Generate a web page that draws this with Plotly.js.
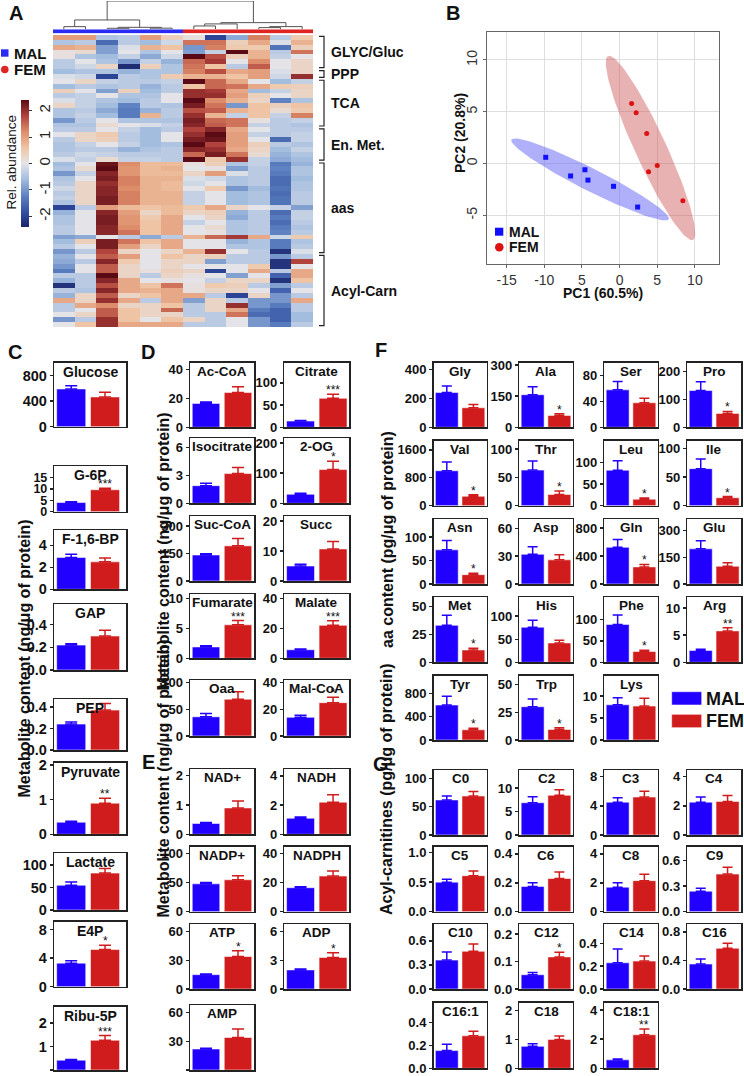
<!DOCTYPE html>
<html><head><meta charset="utf-8">
<script src="https://cdn.plot.ly/plotly-3.0.1.min.js"></script>
<style>html,body{margin:0;padding:0;background:#fff}#chart{width:744px;height:1076px}</style>
</head><body><div id="chart"></div>
<script>
// ---------------- DATA ----------------
// Panel A heatmap
const heatGroups = ["MAL","MAL","MAL","MAL","MAL","MAL","FEM","FEM","FEM","FEM","FEM","FEM"];
const heatRowGroups = ["GLYC/Gluc","PPP","TCA","En. Met.","aas","Acyl-Carn"];
const heatRowGroupSizes = [7,2,10,7,19,15];
const heatZ = [
[1.0,1.0,-0.5,-0.4,1.0,0.4,0.1,-2.0,-0.8,1.3,-0.4,0.5],
[-0.5,-0.4,-1.5,-0.4,-0.6,-0.2,1.4,1.4,0.4,0.9,-0.1,0.8],
[0.9,0.8,-0.9,-0.1,0.8,0.6,-1.0,1.3,0.5,0.5,-1.4,0.4],
[0.1,0.2,-0.9,0.0,-0.5,0.0,-0.9,-0.3,2.4,0.8,-0.4,1.4],
[0.1,-0.5,-0.6,-0.3,-0.8,-0.2,2.4,1.7,0.4,0.8,-0.3,0.0],
[-0.4,0.0,-0.5,-1.0,-0.3,-0.7,1.5,1.9,0.0,1.2,0.0,0.3],
[-0.4,-0.2,0.3,-2.3,0.4,-0.5,1.4,0.6,-0.4,1.6,0.0,0.3],
[-0.6,-0.5,-0.5,-0.7,-0.5,-0.5,1.3,1.7,0.9,1.0,-0.1,0.3],
[-0.1,-0.2,-2.0,-0.4,-0.5,0.5,0.8,0.8,0.6,1.0,-0.2,2.0],
[0.0,0.3,-0.3,-0.4,-0.4,-0.3,2.6,1.5,0.9,0.0,-0.6,-0.3],
[-0.6,-0.4,-0.5,-0.4,-0.7,-0.4,0.6,1.5,1.4,0.9,0.5,0.4],
[0.4,0.0,-0.9,0.4,-0.6,-0.4,2.0,1.9,0.9,-0.6,-0.3,0.3],
[-0.4,-0.3,0.0,-0.5,-0.5,0.0,2.0,2.0,1.0,0.4,0.0,0.3],
[-0.1,-0.3,-0.5,-0.6,-0.4,0.0,2.6,1.2,0.8,0.3,-1.2,-0.5],
[0.3,-0.3,-0.6,-1.2,-0.4,-0.5,2.2,1.4,-1.0,0.6,0.4,0.6],
[-0.5,-0.4,-0.8,-1.3,-0.7,-0.4,1.7,1.6,0.8,0.6,0.2,0.5],
[-0.5,-0.3,-0.6,-1.3,0.8,-0.4,2.0,0.8,-0.3,0.6,-0.3,1.3],
[-1.0,-0.4,0.0,-0.5,-0.5,-0.5,2.2,1.5,1.4,0.1,-0.4,-0.3],
[-0.5,-0.5,0.2,0.0,-0.1,-0.3,2.1,1.6,1.4,-0.3,-0.4,-0.5],
[-0.4,-0.4,0.0,-0.3,-0.6,-0.4,1.8,2.1,0.9,0.0,-0.4,-0.4],
[0.0,0.3,0.5,-0.4,-0.6,0.0,2.0,2.4,1.0,-0.3,-0.4,-0.3],
[-0.4,0.3,0.4,-0.4,-0.6,0.0,2.2,2.3,1.0,0.0,-1.5,-0.3],
[-0.5,-0.3,0.0,-0.3,-0.6,-0.5,2.4,1.8,1.0,0.4,-0.4,-0.5],
[-0.5,-0.4,-0.4,-0.7,-0.5,-0.4,2.1,2.0,0.9,0.3,-0.6,-0.3],
[-0.4,-0.2,-0.3,-0.4,-0.4,-0.4,1.5,2.2,1.4,0.2,-0.7,-0.5],
[-0.1,-0.3,0.2,-0.3,-0.3,-0.4,2.4,0.5,2.0,-0.3,-0.8,-0.6],
[-0.6,0.0,2.3,1.2,0.7,0.7,0.1,0.4,-0.5,-0.3,-1.3,-0.7],
[-0.5,0.2,2.4,1.1,0.7,0.8,0.0,0.1,-0.9,-0.4,-1.2,-0.5],
[-1.0,-0.3,2.1,1.1,0.7,0.7,0.3,1.0,-0.1,-0.4,-1.3,-0.5],
[-0.5,0.0,2.2,1.3,0.8,0.8,-0.1,-0.2,-0.5,-0.4,-1.5,-0.6],
[-0.4,0.3,2.0,1.3,0.8,0.7,-0.2,0.0,-0.5,-0.4,-1.5,-0.5],
[-0.2,0.3,2.1,1.2,0.8,0.7,0.0,0.5,-1.0,-0.6,-1.4,-0.5],
[-0.4,0.3,2.1,1.3,0.8,0.8,-0.3,0.0,-0.6,-0.5,-1.5,-0.4],
[-0.3,0.3,2.2,1.3,0.8,0.8,-0.3,0.0,-0.6,-0.5,-1.4,-0.4],
[-0.5,0.3,2.2,1.3,0.8,0.8,-0.3,0.0,-0.6,-0.5,-1.4,-0.4],
[-2.0,-0.4,1.0,0.7,0.6,0.7,0.5,0.9,0.3,0.0,-0.3,-0.9],
[-0.7,0.0,2.1,1.0,0.3,0.7,0.3,0.4,-0.7,-0.4,-1.5,-0.3],
[-0.5,0.0,2.2,1.1,0.5,0.9,0.0,0.3,-0.8,-0.4,-1.3,-0.3],
[-0.5,0.0,2.2,1.1,0.6,0.9,-0.3,0.0,-0.5,-0.4,-1.5,-0.4],
[-0.4,0.0,2.1,1.2,0.6,0.9,0.0,0.2,-0.5,-0.4,-1.3,-0.5],
[-0.4,0.0,2.1,1.4,0.6,0.9,0.0,0.1,-0.5,-0.4,-1.2,-0.4],
[-0.9,-0.8,0.0,-0.4,-0.8,-0.4,0.8,1.5,1.9,0.9,-0.2,0.5],
[-0.6,0.4,2.2,1.4,0.6,0.9,0.0,0.0,-0.7,-0.5,-1.3,-0.5],
[-0.4,0.0,2.2,1.0,0.3,0.9,0.0,0.0,-0.5,-0.5,-1.3,-0.4],
[-1.0,-0.4,1.8,0.3,0.0,0.3,0.8,2.0,0.0,-0.4,-2.2,-0.1],
[-0.7,0.0,1.6,1.0,0.0,0.6,0.3,0.4,-0.4,-0.4,-1.0,-0.4],
[-0.8,-0.4,2.1,0.5,0.0,0.3,0.3,-0.9,-0.4,-0.4,-2.2,1.8],
[-1.0,0.0,1.6,0.3,0.0,0.3,0.0,0.0,0.0,0.5,-2.2,0.0],
[-1.3,0.0,1.6,0.3,0.1,0.4,0.3,-2.0,0.0,0.9,-0.4,0.9],
[-0.4,-0.4,2.6,0.3,-0.4,0.3,0.1,0.0,-0.9,0.0,-1.6,0.9],
[-0.7,-0.4,2.1,0.9,0.0,0.1,0.0,-0.3,0.3,0.3,-2.2,0.6],
[-2.2,-0.4,1.7,0.9,0.6,1.4,0.1,0.5,0.4,-0.4,-0.9,-0.4],
[-0.4,-0.5,2.1,0.9,0.8,0.9,0.1,0.3,0.3,0.0,-1.6,0.0],
[-0.7,0.3,1.6,0.3,0.6,0.9,0.9,-0.4,-2.0,0.3,-1.0,-0.4],
[0.9,0.3,2.0,0.9,-0.4,0.9,-0.9,0.3,-0.4,-1.0,-1.0,0.9],
[-0.4,0.9,1.2,0.3,0.3,0.6,-0.4,0.3,2.0,-1.0,-1.3,-0.4],
[-0.4,0.0,1.6,0.6,0.3,1.5,-0.4,0.3,0.9,-1.3,-1.6,-0.4],
[0.0,0.3,1.6,0.6,0.3,0.3,-0.4,-0.4,1.4,-1.5,-1.6,-0.6],
[-1.0,-0.4,2.0,0.6,0.0,0.6,0.3,-0.4,0.0,-1.0,-1.6,-0.6],
[0.0,0.6,2.0,0.9,0.9,0.9,-0.4,-0.4,0.0,-1.0,-1.3,-0.4]
];
// column dendrogram linkage: [childA, childB, height] (leaves 0-11, new nodes from 12)
const dendroMerges = [[0,1,0.95],[2,3,0.35],[4,5,0.4],[13,14,0.7],[12,15,3.3],
                      [6,7,1.18],[9,10,0.6],[17,8,1.9],[18,11,0.95],[19,20,2.35],[16,21,10]];
const colorbarTicks = ["-2","-1","0","1","2"];

// Panel B PCA
const pcaMALx = [-9.8,-6.5,-4.6,-4.2,-0.8,2.4];
const pcaMALy = [0.6,-1.2,-0.6,-1.6,-2.2,-4.2];
const pcaFEMx = [1.6,2.2,3.6,5.0,3.85,8.4];
const pcaFEMy = [5.8,4.9,2.9,-0.2,-0.8,-3.6];
const pcaXTickVals = [-15,-10,-5,0,5,10];
const pcaXTickText = ["-15","-10","5","0","5","10"];
const pcaYTickVals = [-5,0,5,10];
const pcaYTickText = ["-5","0","5","10"];

// Panel C glycolysis / PPP
const glyNames = ["Glucose","G-6P","F-1,6-BP","GAP","PEP","Pyruvate","Lactate","E4P","Ribu-5P"];
const glyMAL = [590,4.0,2.9,0.22,0.24,0.35,55,3.3,0.42];
const glyMALsem = [50,0.4,0.3,0.012,0.02,0.03,7,0.35,0.03];
const glyFEM = [465,9.6,2.5,0.30,0.37,0.9,82,5.2,1.27];
const glyFEMsem = [72,0.7,0.35,0.05,0.06,0.14,10,0.6,0.2];
const glySig = ["","***","","","","**","","*","***"];
const glyTicks = [["0","400","800"],["0","5","10","15"],["0","2","4"],["0.0","0.2","0.4"],["0.0","0.2","0.4"],["0","1","2"],["0","50","100"],["0","4","8"],["0","1","2"]];

// Panel D TCA
const tcaNames = ["Ac-CoA","Citrate","Isocitrate","2-OG","Suc-CoA","Succ","Fumarate","Malate","Oaa","Mal-CoA"];
const tcaMAL = [16.5,14,1.9,30,142,5.0,1.9,5.7,36,14];
const tcaMALsem = [1,1.5,0.25,3,7,0.6,0.2,0.5,6,1.5];
const tcaFEM = [24,65,3.2,112,192,10.7,5.6,22,69,25];
const tcaFEMsem = [4,9,0.65,28,40,2.5,0.7,3,14,4];
const tcaSig = ["","***","","*","","","***","***","","*"];
const tcaTicks = [["0","20","40"],["0","50","100"],["0","3","6"],["0","100","200"],["0","150","300"],["0","10","20"],["0","5","10"],["0","20","40"],["0","50","100"],["0","20","40"]];

// Panel E energy metabolism
const enNames = ["NAD+","NADH","NADP+","NADPH","ATP","ADP","AMP"];
const enMAL = [0.37,1.1,48,16.5,15,2.0,22];
const enMALsem = [0.03,0.08,2.5,0.7,0.6,0.08,0.8];
const enFEM = [0.9,2.2,55,24.5,34,3.3,34];
const enFEMsem = [0.24,0.5,7,3.5,6,0.5,9];
const enSig = ["","","","","*","*",""];
const enTicks = [["0","1","2"],["0","2","4"],["0","50","100"],["0","20","40"],["0","30","60"],["0","3","6"],["0","30","60"]];

// Panel F amino acids
const aaNames = ["Gly","Ala","Ser","Pro","Val","Thr","Leu","Ile","Asn","Asp","Gln","Glu","Met","His","Phe","Arg","Tyr","Trp","Lys"];
const aaMAL = [240,157,58,132,1000,63,82,65,73,32,525,198,33,76,88,2.2,600,30,8.0];
const aaMALsem = [45,38,13,32,250,16,22,17,20,8,110,45,9,15,22,0.2,150,7,1.6];
const aaFEM = [135,57,38,50,270,20,15,14,20,26,245,100,11,42,25,5.8,175,9.5,7.7];
const aaFEMsem = [22,8,7,7,40,6,2.5,2,3,5.5,35,20,1.5,6,3,0.6,25,1.5,1.8];
const aaSig = ["","*","","*","*","*","*","*","*","","*","","*","","*","**","*","*",""];
const aaTicks = [["0","200","400"],["0","150","300"],["0","40","80"],["0","100","200"],["0","800","1600"],["0","50","100"],["0","50","100"],["0","50","100"],["0","50","100"],["0","30","60"],["0","400","800"],["0","150","300"],["0","25","50"],["0","50","100"],["0","50","100"],["0","5","10"],["0","400","800"],["0","25","50"],["0","5","10"]];

// Panel G acyl-carnitines
const acNames = ["C0","C2","C3","C4","C5","C6","C8","C9","C10","C12","C14","C16","C16:1","C18","C18:1"];
const acMAL = [62,6.9,4.5,2.25,0.50,0.175,1.7,0.24,0.36,0.052,0.23,0.35,0.155,0.76,0.58];
const acMALsem = [7,1.3,0.6,0.35,0.05,0.025,0.3,0.035,0.1,0.008,0.12,0.07,0.055,0.09,0.05];
const acFEM = [69,8.5,5.2,2.3,0.61,0.23,2.15,0.44,0.47,0.117,0.245,0.57,0.285,1.0,2.3];
const acFEMsem = [8,1.2,0.8,0.4,0.08,0.045,0.45,0.08,0.09,0.017,0.045,0.07,0.04,0.12,0.4];
const acSig = ["","","","","","","","","","*","","","","","**"];
const acTicks = [["0","50","100"],["0","5","10"],["0","4","8"],["0","2","4"],["0.0","0.5","1.0"],["0.0","0.2","0.4"],["0","2","4"],["0.0","0.3","0.6"],["0.0","0.3","0.6"],["0.0","0.1","0.2"],["0.0","0.2","0.4"],["0.0","0.4","0.8"],["0.0","0.2","0.4"],["0","1","2"],["0","2","4"]];

// ---------------- LAYOUT / STYLE ----------------
const W = 744, H = 1076;
const FONT = "Liberation Sans, Arial, Helvetica, sans-serif";
const BLUE = "#2200ff", RED = "#d01c1c";
const FRAME = "#222";

// axis upper limits for each small panel
const glyTop = [1000,20,5.4,0.58,0.47,2.07,126,9.1,2.7];
const tcaTop = [44.6,145,7.0,216,355,21.7,10.7,42.7,105,42];
const enTop = [2.22,4.45,112,44.7,68,6.8,68];
const aaTop = [446,311,100,232,1860,115,150,114,139,70,930,366,58,141,151,12,1103,58,14.6];
const acTop = [115,13.9,8.9,4.45,1.1,0.45,4.5,0.76,0.81,0.237,0.57,0.91,0.575,2.27,4.5];

// pixel boxes
const glyRows = [[362.7,426.7],[466,511.7],[530,589.3],[604.3,670],[699.3,750],[762.7,834.3],[853.3,910],[921.7,986.7],[1006.7,1070]];
const glyCol = [54.3,126];
const dCols = [[190,254],[284.3,349.3]];
const tcaRows = [[362.7,427.3],[438.3,503.3],[516,581],[594.3,658.3],[680,736]];
const enRows = [[769.3,834.3],[846.7,911.7],[924,989],[1005,1070]];
const fCols = [[433.5,486.7],[519.3,572.7],[604.3,657.7],[687.3,741]];
const aaRows = [[362.7,427.3],[440.7,505.7],[519,584],[597.3,662.3],[675.7,740]];
const acRows = [[770,835],[846.7,911.7],[924,989],[1002.7,1068.3]];

const data = [];
const layout = {
  width: W, height: H, margin: {l:0,r:0,t:0,b:0},
  paper_bgcolor: "#fff", plot_bgcolor: "rgba(0,0,0,0)",
  showlegend: false, barmode: "overlay",
  font: {family: FONT, color: "#111"},
  annotations: [], shapes: []
};
let axCount = 0;
function addAxes(box, xopt, yopt) {
  axCount++;
  const s = axCount === 1 ? "" : String(axCount);
  layout["xaxis"+s] = Object.assign({domain:[box[0]/W, box[1]/W], anchor:"y"+s, fixedrange:true}, xopt);
  layout["yaxis"+s] = Object.assign({domain:[1-box[3]/H, 1-box[2]/H], anchor:"x"+s, fixedrange:true}, yopt);
  return {x:"x"+s, y:"y"+s};
}
function ann(o) { layout.annotations.push(Object.assign({showarrow:false}, o)); }
function txt(x, y, text, size, opts) {
  ann(Object.assign({xref:"paper", yref:"paper", x:x/W, y:1-y/H, text:text,
    font:{family:FONT, size:size, color:"#111"}}, opts||{}));
}

// ---------------- Panel A: heatmap ----------------
const colIdx = heatGroups.map((g,i)=>i);
const rowIdx = heatZ.map((r,i)=>i);
const hm = addAxes([53,313,35,327], {range:[-0.5,11.5], visible:false}, {range:[heatZ.length-0.5,-0.5], visible:false});
data.push({
  type:"heatmap", z:heatZ, x:colIdx, y:rowIdx, xaxis:hm.x, yaxis:hm.y,
  zmin:-2.4, zmax:2.4, hoverinfo:"skip",
  colorscale:[[0,"#1b2466"],[0.1,"#2e4a9e"],[0.25,"#5f83c2"],[0.38,"#a6bfe0"],[0.5,"#e4e4e8"],
              [0.62,"#f0c6a6"],[0.75,"#dd8d69"],[0.88,"#b0403a"],[1,"#5a0a14"]],
  colorbar:{x:21/W, xanchor:"left", xpad:0, y:1-227/H, yanchor:"bottom", ypad:0,
    len:127, lenmode:"pixels", thickness:8, thicknessmode:"pixels", outlinewidth:0,
    tickvals:colorbarTicks.map(Number), ticktext:colorbarTicks, ticks:"outside", ticklen:3,
    tickcolor:"#333", tickangle:-90, tickfont:{family:FONT, size:15, color:"#222"}}
});
// group strip
const st = addAxes([53,313,29.3,33.5], {range:[-0.5,11.5], visible:false}, {range:[-0.5,0.5], visible:false});
data.push({type:"heatmap", z:[heatGroups.map(g=>g==="MAL"?0:1)], x:colIdx, y:[0],
  xaxis:st.x, yaxis:st.y, zmin:0, zmax:1, showscale:false, hoverinfo:"skip",
  colorscale:[[0,"#2a2af5"],[0.5,"#2a2af5"],[0.5,"#e02424"],[1,"#e02424"]]});
// dendrogram
const dd = addAxes([53,313,1,29.3], {range:[-0.5,11.5], visible:false}, {range:[0,10], visible:false});
const nX = colIdx.slice(), nH = colIdx.map(()=>0), ddx = [], ddy = [];
dendroMerges.forEach(([a,b,h])=>{
  ddx.push(nX[a],nX[a],nX[b],nX[b],null); ddy.push(nH[a],h,h,nH[b],null);
  nX.push((nX[a]+nX[b])/2); nH.push(h);
});
data.push({type:"scatter", mode:"lines", x:ddx, y:ddy, xaxis:dd.x, yaxis:dd.y,
  line:{color:"#555", width:1}, hoverinfo:"skip", connectgaps:false});
// row group brackets + labels
let r0 = 0;
heatRowGroups.forEach((g,i)=>{
  const a = r0 - 0.5 + 0.3, b = r0 + heatRowGroupSizes[i] - 0.5 - 0.3;
  layout.shapes.push({type:"path", xref:"paper", yref:hm.y,
    path:`M ${319/W},${a} H ${324/W} V ${b} H ${319/W}`, line:{color:"#222", width:1.2}});
  ann({xref:"paper", yref:hm.y, x:329/W, y:(a+b)/2, xanchor:"left", yanchor:"middle",
    text:"<b>"+g+"</b>", font:{family:FONT, size:14, color:"#111"}});
  r0 += heatRowGroupSizes[i];
});
// legend A
layout.shapes.push({type:"rect", xref:"paper", yref:"paper", x0:1/W, x1:8.5/W, y0:1-56.7/H, y1:1-49.3/H, fillcolor:"#2a2af5", line:{width:0}});
layout.shapes.push({type:"circle", xref:"paper", yref:"paper", x0:1/W, x1:8.6/W, y0:1-73.3/H, y1:1-65.7/H, fillcolor:"#e02424", line:{width:0}});
txt(11.5, 53, "<b>MAL</b>", 15, {xanchor:"left", yanchor:"middle"});
txt(11.5, 69.5, "<b>FEM</b>", 15, {xanchor:"left", yanchor:"middle"});
txt(11.5, 162, "Rel. abundance", 13.5, {textangle:-90, xanchor:"center", yanchor:"middle"});

// ---------------- Panel B: PCA ----------------
const pc = addAxes([487,719,32,264],
  {range:[-17.6,13.2], tickvals:pcaXTickVals, ticktext:pcaXTickText, ticks:"outside", ticklen:3, tickcolor:"#666",
   showgrid:true, gridcolor:"#dedede", zeroline:false, showline:true, mirror:true, linecolor:"#666", linewidth:1.2,
   tickfont:{family:FONT, size:14, color:"#333"}},
  {range:[-9.7,12.7], tickvals:pcaYTickVals, ticktext:pcaYTickText, ticks:"outside", ticklen:3, tickcolor:"#666",
   showgrid:true, gridcolor:"#dedede", zeroline:false, showline:true, mirror:true, linecolor:"#666", linewidth:1.2,
   tickangle:-90, tickfont:{family:FONT, size:14, color:"#333"}});
function ellipse(xs, ys, k) {
  const n = xs.length, mx = xs.reduce((a,b)=>a+b)/n, my = ys.reduce((a,b)=>a+b)/n;
  let sxx=0, syy=0, sxy=0;
  for (let i=0;i<n;i++){const dx=xs[i]-mx, dy=ys[i]-my; sxx+=dx*dx; syy+=dy*dy; sxy+=dx*dy;}
  sxx/=(n-1); syy/=(n-1); sxy/=(n-1);
  const tr=sxx+syy, det=sxx*syy-sxy*sxy, disc=Math.sqrt(tr*tr/4-det);
  const l1=tr/2+disc, l2=tr/2-disc, ang=Math.atan2(l1-sxx, sxy);
  const c=Math.cos(ang), s=Math.sin(ang), ex=[], ey=[];
  for (let i=0;i<=120;i++){ const t=2*Math.PI*i/120;
    const u=k*Math.sqrt(l1)*Math.cos(t), v=k*Math.sqrt(l2)*Math.sin(t);
    ex.push(mx+u*c-v*s); ey.push(my+u*s+v*c); }
  return {x:ex, y:ey};
}
const kEll = Math.sqrt(-2*Math.log(0.05));
const eM = ellipse(pcaMALx, pcaMALy, kEll), eF = ellipse(pcaFEMx, pcaFEMy, kEll);
data.push({type:"scatter", mode:"lines", x:eM.x, y:eM.y, fill:"toself", fillcolor:"rgba(95,95,245,0.5)",
  line:{width:0}, xaxis:pc.x, yaxis:pc.y, hoverinfo:"skip"});
data.push({type:"scatter", mode:"lines", x:eF.x, y:eF.y, fill:"toself", fillcolor:"rgba(205,85,85,0.45)",
  line:{width:0}, xaxis:pc.x, yaxis:pc.y, hoverinfo:"skip"});
data.push({type:"scatter", mode:"markers", x:pcaMALx, y:pcaMALy, marker:{symbol:"square", size:5, color:"#1010ff"},
  xaxis:pc.x, yaxis:pc.y});
data.push({type:"scatter", mode:"markers", x:pcaFEMx, y:pcaFEMy, marker:{symbol:"circle", size:5, color:"#dd1111"},
  xaxis:pc.x, yaxis:pc.y});
layout.shapes.push({type:"rect", xref:"paper", yref:"paper", x0:495/W, x1:503.3/W, y0:1-235.7/H, y1:1-227.7/H, fillcolor:"#1010ff", line:{width:0}});
layout.shapes.push({type:"circle", xref:"paper", yref:"paper", x0:495/W, x1:503.6/W, y0:1-251.6/H, y1:1-243/H, fillcolor:"#dd1111", line:{width:0}});
txt(507, 231.7, "<b>MAL</b>", 14, {xanchor:"left", yanchor:"middle"});
txt(507, 247.3, "<b>FEM</b>", 14, {xanchor:"left", yanchor:"middle"});
txt(603, 293, "<b>PC1 (60.5%)</b>", 14, {xanchor:"center", yanchor:"middle"});
txt(460, 133, "<b>PC2 (20.8%)</b>", 14, {textangle:-90, xanchor:"center", yanchor:"middle"});

// ---------------- bar panels ----------------
function barPanel(name, mal, malE, fem, femE, sig, ticks, top, box, xr, tickSize, titleSize, capW) {
  const tsz = ticks.length > 3 ? tickSize - 2 : tickSize;
  const a = addAxes(box,
    {range:xr, showticklabels:false, ticks:"", showgrid:false, zeroline:false,
     showline:true, mirror:true, linecolor:FRAME, linewidth:1.5},
    {range:[0,top], tickvals:ticks.map(Number), ticktext:ticks, ticks:"outside", ticklen:3, tickwidth:1.5,
     tickcolor:FRAME, showgrid:false, zeroline:false, showline:true, mirror:true, linecolor:FRAME, linewidth:1.5,
     tickfont:{family:FONT, size:tsz, color:"#111", weight:"bold"}});
  [[0,mal,malE,BLUE],[1,fem,femE,RED]].forEach(([x,v,e,c])=>{
    data.push({type:"bar", x:[x], y:[v], width:0.86, xaxis:a.x, yaxis:a.y,
      marker:{color:c, line:{color:"rgba(255,255,255,0.55)", width:1}},
      error_y:{type:"data", symmetric:false, array:[e], arrayminus:[0], color:c, thickness:1.5, width:capW},
      hoverinfo:"skip"});
  });
  ann({xref:a.x+" domain", yref:a.y+" domain", x:0.5, y:1, yanchor:"top", xanchor:"center", yshift:1,
    text:"<b>"+name+"</b>", font:{family:FONT, size:titleSize, color:"#111"}});
  if (sig) ann({xref:a.x, yref:a.y, x:1, y:fem+femE, yanchor:"bottom", xanchor:"center", yshift:-5,
    text:sig, font:{family:FONT, size:12, color:"#111"}});
}
glyNames.forEach((n,i)=>barPanel(n, glyMAL[i], glyMALsem[i], glyFEM[i], glyFEMsem[i], glySig[i], glyTicks[i], glyTop[i],
  [glyCol[0], glyCol[1], glyRows[i][0], glyRows[i][1]], [-0.5,1.62], 14.5, 14, 6));
tcaNames.forEach((n,i)=>{ const r=tcaRows[Math.floor(i/2)], c=dCols[i%2];
  barPanel(n, tcaMAL[i], tcaMALsem[i], tcaFEM[i], tcaFEMsem[i], tcaSig[i], tcaTicks[i], tcaTop[i],
  [c[0], c[1], r[0], r[1]], [-0.5,1.5], 13, 13.5, 6); });
enNames.forEach((n,i)=>{ const r=enRows[Math.floor(i/2)], c=dCols[i%2];
  barPanel(n, enMAL[i], enMALsem[i], enFEM[i], enFEMsem[i], enSig[i], enTicks[i], enTop[i],
  [c[0], c[1], r[0], r[1]], [-0.5,1.5], 13, 13.5, 6); });
aaNames.forEach((n,i)=>{ const r=aaRows[Math.floor(i/4)], c=fCols[i%4];
  barPanel(n, aaMAL[i], aaMALsem[i], aaFEM[i], aaFEMsem[i], aaSig[i], aaTicks[i], aaTop[i],
  [c[0], c[1], r[0], r[1]], [-0.5,1.5], 13, 13.5, 5); });
acNames.forEach((n,i)=>{ const r=acRows[Math.floor(i/4)], c=fCols[i%4];
  barPanel(n, acMAL[i], acMALsem[i], acFEM[i], acFEMsem[i], acSig[i], acTicks[i], acTop[i],
  [c[0], c[1], r[0], r[1]], [-0.5,1.5], 13, 13.5, 5); });

// F legend
layout.shapes.push({type:"rect", xref:"paper", yref:"paper", x0:671.7/W, x1:701.7/W, y0:1-705/H, y1:1-691.7/H, fillcolor:BLUE, line:{color:"rgba(255,255,255,0.55)", width:1}});
layout.shapes.push({type:"rect", xref:"paper", yref:"paper", x0:671.7/W, x1:701.7/W, y0:1-727.7/H, y1:1-714.3/H, fillcolor:RED, line:{color:"rgba(255,255,255,0.55)", width:1}});
txt(704, 698.5, "<b>MAL</b>", 18, {xanchor:"left", yanchor:"middle"});
txt(704, 721.2, "<b>FEM</b>", 18, {xanchor:"left", yanchor:"middle"});

// y axis titles
txt(13, 800, "<b>Metabolite content (ng/μg of protein)</b>", 16, {textangle:-90});
txt(152, 552, "<b>Metabolite content (ng/μg of protein)</b>", 16, {textangle:-90});
txt(152, 920, "<b>Metabolite content (ng/μg of protein)</b>", 16, {textangle:-90});
txt(387, 540, "<b>aa content (pg/μg of protein)</b>", 16, {textangle:-90});
txt(386, 917, "<b>Acyl-carnitines (pg/μg of protein)</b>", 16, {textangle:-90});

// panel letters
[["A",16,13],["B",453,13],["C",15,352],["D",148,352],["E",148,762],["F",381,350],["G",381,764]]
  .forEach(([l,x,y])=>txt(x, y, "<b>"+l+"</b>", 20, {xanchor:"center", yanchor:"middle"}));

Plotly.newPlot("chart", data, layout, {staticPlot:true, displayModeBar:false});
</script></body></html>
